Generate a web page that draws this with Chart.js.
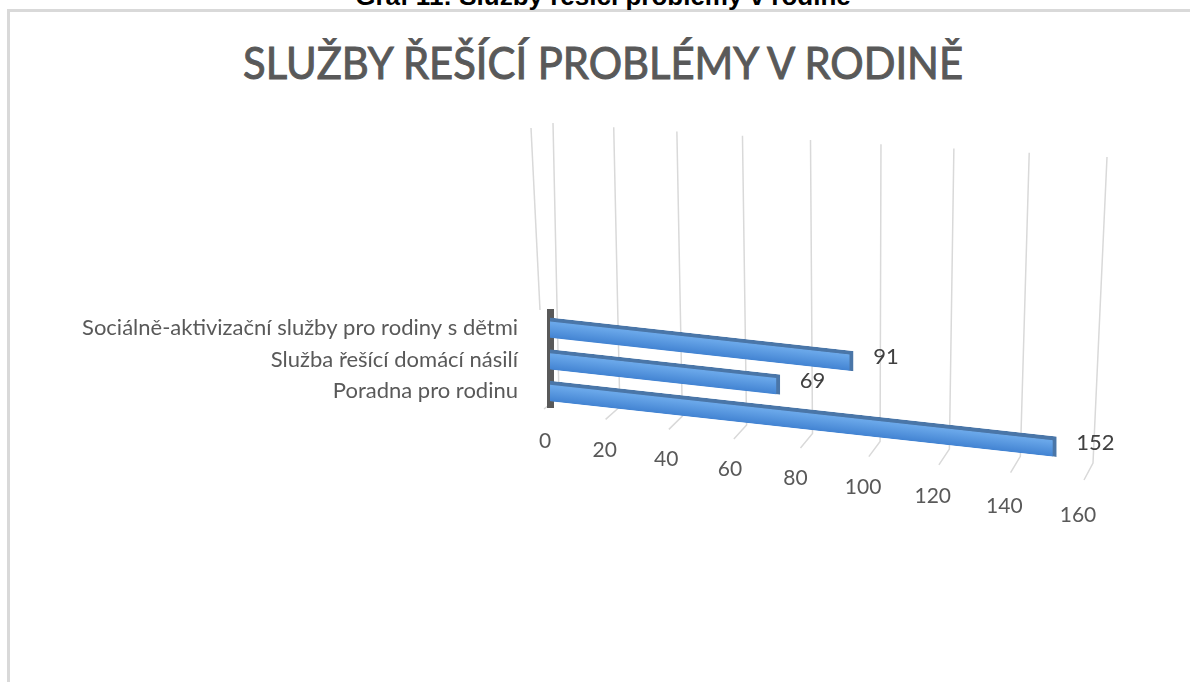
<!DOCTYPE html>
<html><head><meta charset="utf-8">
<script src="https://cdn.jsdelivr.net/npm/chart.js@4.4.0/dist/chart.umd.min.js"></script>
<style>
html,body{margin:0;padding:0;background:#fff;overflow:hidden;width:1190px;height:682px;}
#frame{position:absolute;left:7px;top:9px;width:1400px;height:900px;border:3px solid #d9d9d9;box-sizing:border-box;}
#hdr{position:absolute;left:0;width:1206px;top:-17px;text-align:center;font:bold 26px "Liberation Sans",Arial,sans-serif;line-height:26px;color:#000;white-space:nowrap;}
#ttl{position:absolute;left:603px;top:40px;font:44px Lato,sans-serif;line-height:44px;color:#595959;-webkit-text-stroke:1px #595959;white-space:nowrap;transform-origin:0 0;}
#wrap{position:absolute;left:0;top:0;width:1190px;height:682px;}
</style></head>
<body>
<div id="frame"></div>
<div id="hdr">Graf 11: Služby řešící problémy v rodině</div>
<div id="ttl">SLUŽBY ŘEŠÍCÍ PROBLÉMY V RODINĚ</div>
<div id="wrap"><canvas id="c" width="1190" height="682"></canvas></div>
<script>
const categories = [
  'Sociálně-aktivizační služby pro rodiny s dětmi',
  'Služba řešící domácí násilí',
  'Poradna pro rodinu'
];
const values = [91, 69, 152];
const tickValues = [0, 20, 40, 60, 80, 100, 120, 140, 160];

// fit title width
const ttl = document.getElementById('ttl');
const tw = ttl.offsetWidth;
ttl.style.transform = 'translateX(-360px) scaleX(' + (720 / tw) + ')';

const K = 0.11; // perspective slant of bars

const persp = {
  id: 'persp',
  beforeDraw(ch) {
    const {ctx, chartArea: ca, scales: {x}} = ch;
    ctx.save();
    ctx.strokeStyle = '#d9d9d9';
    ctx.lineWidth = 1.5;
    ctx.beginPath();
    ctx.moveTo(ca.left - 19, ca.top - 184);
    ctx.lineTo(ca.left - 10, ca.top - 2);
    ctx.stroke();
    tickValues.forEach(v => {
      const px = x.getPixelForValue(v);
      const u = (px - ca.left) / (ca.right - ca.left);
      const tx = px + 3 - 57 * u + 78 * u * u, ty = ca.top - 189 + 34 * u;
      const bx = px + 9 - 53 * u + 54 * u * u, by = ca.bottom - 10 + 80 * u - 14 * u * u;
      ctx.beginPath();
      ctx.moveTo(tx, ty);
      ctx.lineTo(bx, by);
      ctx.lineTo(bx - 15 + 6 * u, by + 12 + 5 * u);
      ctx.stroke();
    });
    ctx.restore();
  },
  beforeDatasetsDraw(ch) {
    const {ctx, chartArea: ca} = ch;
    ctx.save();
    ctx.transform(1, K, 0, 1, 0, -K * ca.left);
  },
  afterDatasetsDraw(ch) {
    const {ctx, chartArea: ca, scales: {x}} = ch;
    ctx.restore();
    ctx.save();
    // value labels
    ctx.fillStyle = '#404040';
    ctx.font = '22px Lato, sans-serif';
    ctx.textAlign = 'left';
    ctx.textBaseline = 'middle';
    ch.getDatasetMeta(0).data.forEach((el, i) => {
      const ye = el.y + K * (el.x - ca.left) - 4;
      ctx.fillText(String(values[i]), el.x + 20, ye);
    });
    // axis tick labels (slanted baseline)
    ctx.fillStyle = '#595959';
    ctx.font = '21px Lato, sans-serif';
    ctx.textAlign = 'center';
    tickValues.forEach(v => {
      const px = x.getPixelForValue(v);
      const u = (px - ca.left) / (ca.right - ca.left);
      ctx.fillText(String(v), px - 5 - 64 * u * (1 - u), ca.bottom + 34 + 74 * u);
    });
    ctx.restore();
  }
};

function barFill(c) {
  const ch = c.chart;
  if (!ch.chartArea) return '#5b9bd5';
  const y = ch.scales.y.getPixelForValue(c.dataIndex);
  const g = ch.ctx.createLinearGradient(0, y - 10, 0, y + 10);
  g.addColorStop(0, '#72aeee');
  g.addColorStop(0.3, '#67a5e8');
  g.addColorStop(1, '#4283d2');
  return g;
}

new Chart(document.getElementById('c'), {
  type: 'bar',
  data: {
    labels: categories,
    datasets: [{
      data: values,
      backgroundColor: barFill,
      borderColor: '#4a76a8',
      borderWidth: {top: 4, right: 4, bottom: 0, left: 0},
      borderSkipped: 'start',
      barThickness: 20,
      clip: false
    }]
  },
  options: {
    indexAxis: 'y',
    responsive: false,
    animation: false,
    layout: {padding: {left: 0, right: 107, top: 312, bottom: 275}},
    plugins: {legend: {display: false}, tooltip: {enabled: false}, title: {display: false}},
    scales: {
      x: {display: false, min: 0, max: 160},
      y: {
        display: true,
        grid: {display: false, drawTicks: false},
        border: {display: true, color: '#595959', width: 7},
        ticks: {padding: 32, color: '#595959', font: {family: 'Lato', size: 22}},
        afterFit(s) { s.width = 550; }
      }
    }
  },
  plugins: [persp]
});
</script>
</body></html>
